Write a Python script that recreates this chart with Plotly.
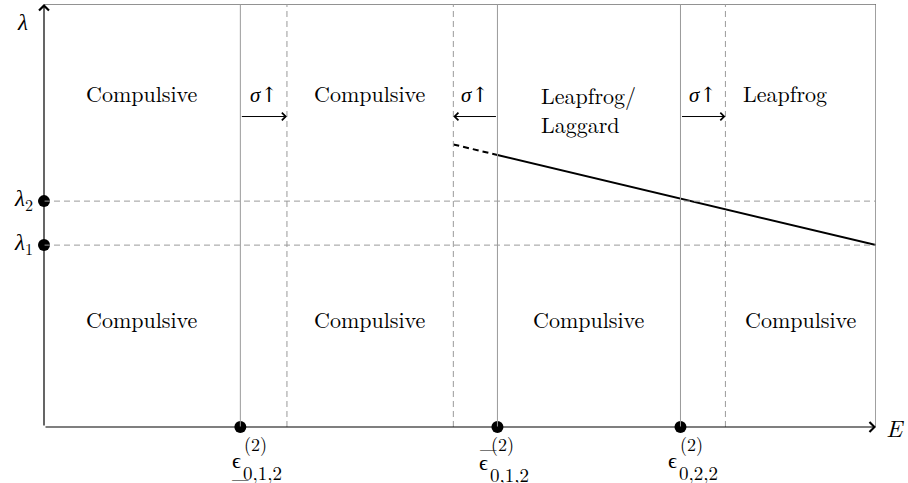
import plotly.graph_objects as go

# --- regime thresholds on the E axis -------------------------------------
eps_marks = [2.36, 5.45, 7.65]          # solid boundaries (dots on the E axis)
eps_shifted = [2.92, 4.92, 8.19]        # boundaries after sigma increases (dashed)
eps_names = ["under", "over", "plain"]  # decoration of each epsilon symbol
eps_sub = ["0,1,2", "0,1,2", "0,2,2"]
eps_sup = "(2)"

# --- lambda levels -----------------------------------------------------
lam_levels = [4.30, 5.34]
lam_names = ["1", "2"]

# --- frontier line -------------------------------------------------------
frontier_E = [5.45, 10.0]
frontier_lam = [6.43, 4.30]
frontier_ext_E = [4.92, 5.45]
frontier_ext_lam = [6.68, 6.43]

# --- region labels -------------------------------------------------------
top_labels = ["Compulsive", "Compulsive", "Leapfrog/<br>Laggard", "Leapfrog"]
bottom_labels = ["Compulsive", "Compulsive", "Compulsive", "Compulsive"]
sigma_label = '<i>σ</i><span style="font-family:DejaVu Serif">↑</span>'
eps_symbol = '<span style="font-family:Liberation Serif">ϵ</span>'

E_MAX, LAM_MAX = 10.0, 10.0
ROW_TOP, ROW_BOTTOM, ARROW_ROW = 7.9, 2.56, 7.34

FONT = "Latin Modern Roman"
GRAY = "#9a9a9a"

fig = go.Figure()

# frontier: solid part and dashed extension
fig.add_trace(go.Scatter(x=frontier_E, y=frontier_lam, mode="lines",
                         line=dict(color="black", width=2), hoverinfo="skip"))
fig.add_trace(go.Scatter(x=frontier_ext_E, y=frontier_ext_lam, mode="lines",
                         line=dict(color="black", width=2, dash="6px,4px"),
                         hoverinfo="skip"))

# dots on the axes
fig.add_trace(go.Scatter(x=eps_marks, y=[0] * len(eps_marks), mode="markers",
                         marker=dict(color="black", size=12), cliponaxis=False,
                         hoverinfo="skip"))
fig.add_trace(go.Scatter(x=[0] * len(lam_levels), y=lam_levels, mode="markers",
                         marker=dict(color="black", size=12), cliponaxis=False,
                         hoverinfo="skip"))

# frame: top and right borders
fig.add_shape(type="line", x0=0, x1=E_MAX, y0=LAM_MAX, y1=LAM_MAX,
              line=dict(color="#6e6e6e", width=1.3))
fig.add_shape(type="line", x0=E_MAX, x1=E_MAX, y0=0, y1=LAM_MAX,
              line=dict(color="#6e6e6e", width=1.3))
# vertical boundaries
for e in eps_marks:
    fig.add_shape(type="line", x0=e, x1=e, y0=0, y1=LAM_MAX,
                  line=dict(color=GRAY, width=1))
for e in eps_shifted:
    fig.add_shape(type="line", x0=e, x1=e, y0=0, y1=LAM_MAX,
                  line=dict(color=GRAY, width=1, dash="6px,4px"))
# horizontal lambda levels
for lv in lam_levels:
    fig.add_shape(type="line", x0=0, x1=E_MAX, y0=lv, y1=lv,
                  line=dict(color=GRAY, width=1, dash="6px,4px"))


def label(text, x, y, size=22, **kw):
    fig.add_annotation(x=x, y=y, xref="x", yref="y", text=text, showarrow=False,
                       font=dict(family=FONT, size=size, color="black"), **kw)


def arrow(x, y, ax, ay, width=1.0, size=1.5):
    fig.add_annotation(x=x, y=y, ax=ax, ay=ay, xref="x", yref="y", axref="x",
                       ayref="y", text="", showarrow=True, arrowhead=4,
                       arrowsize=size, arrowwidth=width, arrowcolor="black")


# axes with arrowheads
arrow(E_MAX, 0, 0, 0, width=1.2, size=1.6)
arrow(0, LAM_MAX, 0, 0, width=1.2, size=1.6)

# sigma shift arrows
for a, b in zip(eps_marks, eps_shifted):
    arrow(b, ARROW_ROW, a, ARROW_ROW)
    label(sigma_label, (a + b) / 2, ROW_TOP, size=21)

# region labels
bounds = [0, eps_marks[0], eps_shifted[0], eps_shifted[1], eps_marks[1],
          eps_marks[2], eps_shifted[2], E_MAX]
regions = [(bounds[0], bounds[1]), (bounds[2], bounds[3]),
           (bounds[4], bounds[5]), (bounds[6], bounds[7])]
top_shift = [0, 0, 0, -16]
for (l, r), lab, dx in zip(regions, top_labels, top_shift):
    y = ROW_TOP if "<br>" not in lab else ROW_TOP - 0.38
    label(lab, (l + r) / 2, y, align="left", xshift=dx)
for (l, r), lab in zip(regions, bottom_labels):
    label(lab, (l + r) / 2, ROW_BOTTOM)

# epsilon labels under the E axis
eps_dx = [-9, -19, -13]
for e, kind, sub, dx in zip(eps_marks, eps_names, eps_sub, eps_dx):
    gy = -33 if kind != "over" else -35
    label(eps_symbol, e, 0, size=22, xanchor="left", yanchor="middle",
          xshift=dx - 1, yshift=gy)
    label(sub, e, 0, size=19, xanchor="left", yanchor="middle",
          xshift=dx + 10, yshift=gy - 12)
    label(eps_sup, e, 0, size=18, xanchor="left", yanchor="middle",
          xshift=dx + 11, yshift=-16)
    if kind == "under":
        label("_", e, 0, xanchor="left", yanchor="middle", xshift=dx - 1, yshift=-41)
    elif kind == "over":
        label("_", e, 0, xanchor="left", yanchor="middle", xshift=dx, yshift=-11)

# lambda labels
for lv, name in zip(lam_levels, lam_names):
    label(f"<i>λ</i><sub>{name}</sub>", 0, lv, size=23, xanchor="right",
          yanchor="middle", xshift=-9, yshift=3)
label("<i>λ</i>", 0, LAM_MAX, size=23, xanchor="center", yanchor="middle",
      xshift=-22, yshift=-16)
label("<i>E</i>", E_MAX, 0, size=24, xanchor="left", yanchor="middle", xshift=8)

fig.update_layout(
    width=908, height=483,
    margin=dict(l=44, r=32, t=4, b=56),
    paper_bgcolor="white", plot_bgcolor="white",
    showlegend=False,
    font=dict(family=FONT),
    xaxis=dict(range=[0, E_MAX], visible=False, fixedrange=True),
    yaxis=dict(range=[0, LAM_MAX], visible=False, fixedrange=True),
)

fig.write_html("out.html")
